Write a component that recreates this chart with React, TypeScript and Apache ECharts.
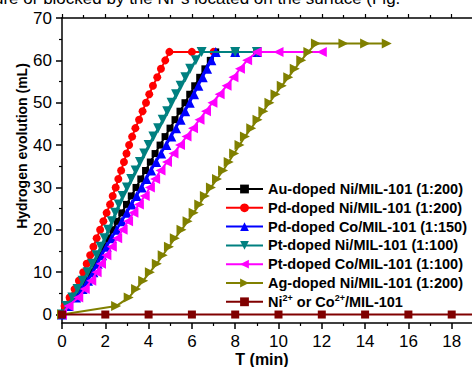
import React, { useEffect, useRef } from 'react';
import * as echarts from 'echarts';

const FONT = '"Liberation Sans", Arial, Helvetica, sans-serif';

const seriesNames = [
  'Au-doped Ni/MIL-101 (1:200)',
  'Pd-doped Ni/MIL-101 (1:200)',
  'Pd-doped Co/MIL-101 (1:150)',
  'Pt-doped Ni/MIL-101 (1:100)',
  'Pt-doped Co/MIL-101 (1:100)',
  'Ag-doped Ni/MIL-101 (1:200)',
  'Ni2+ or Co2+/MIL-101',
];
const seriesColors = ['#000000', '#ff0000', '#0000ff', '#008080', '#ff00ff', '#808000', '#800000'];

// volume readings (mL), every 2 mL
const vol62 = [0, 2, 4, 6, 8, 10, 12, 14, 16, 18, 20, 22, 24, 26, 28, 30, 32, 34, 36, 38, 40, 42, 44, 46, 48, 50, 52, 54, 56, 58, 60, 62];
const vol64 = [0, 2, 4, 6, 8, 10, 12, 14, 16, 18, 20, 22, 24, 26, 28, 30, 32, 34, 36, 38, 40, 42, 44, 46, 48, 50, 52, 54, 56, 58, 60, 62, 64];

// times (min) at which each volume was reached
const tAu = [0, 0.35, 0.62, 0.88, 1.12, 1.35, 1.55, 1.75, 1.95, 2.15, 2.35, 2.55, 2.76, 2.98, 3.2, 3.42, 3.64, 3.86, 4.08, 4.3, 4.53, 4.76, 4.99, 5.22, 5.45, 5.68, 5.9, 6.13, 6.36, 6.6, 6.85, 7.1];
const tPdNi = [0, 0.12, 0.35, 0.58, 0.78, 0.98, 1.14, 1.3, 1.45, 1.6, 1.76, 1.91, 2.06, 2.22, 2.34, 2.48, 2.6, 2.73, 2.86, 2.98, 3.1, 3.24, 3.39, 3.56, 3.72, 3.88, 4.03, 4.2, 4.4, 4.57, 4.77, 4.96];
const tPdCo = [0, 0.3, 0.65, 0.95, 1.2, 1.45, 1.65, 1.85, 2.06, 2.3, 2.53, 2.77, 3.0, 3.22, 3.45, 3.68, 3.9, 4.12, 4.35, 4.58, 4.82, 5.05, 5.27, 5.48, 5.69, 5.9, 6.1, 6.3, 6.5, 6.7, 6.9, 7.1];
const tPtNi = [0, 0.22, 0.48, 0.72, 0.95, 1.18, 1.4, 1.6, 1.78, 1.96, 2.13, 2.3, 2.46, 2.62, 2.8, 3.0, 3.2, 3.4, 3.6, 3.8, 4.0, 4.22, 4.44, 4.65, 4.86, 5.06, 5.27, 5.48, 5.7, 5.92, 6.18, 6.45];
const tPtCo = [0, 0.3, 0.75, 1.05, 1.35, 1.6, 1.8, 2.05, 2.3, 2.55, 2.8, 3.05, 3.3, 3.55, 3.82, 4.06, 4.3, 4.55, 4.85, 5.15, 5.45, 5.75, 6.05, 6.35, 6.65, 6.95, 7.28, 7.6, 7.92, 8.22, 8.55, 9.0];
const tAg = [0, 2.5, 3.08, 3.42, 3.75, 4.06, 4.38, 4.65, 4.94, 5.21, 5.52, 5.8, 6.08, 6.34, 6.6, 6.88, 7.16, 7.44, 7.7, 7.95, 8.2, 8.45, 8.74, 9.03, 9.3, 9.58, 9.86, 10.15, 10.45, 10.75, 11.05, 11.38, 11.73];

// plateau readings after completion
const platAu = [8, 9];
const platPdNi = [6, 7];
const platPdCo = [8, 9];
const platPtNi = [8, 9];
const platPtCo = [10, 12];
const platAg = [13, 14, 15];

// blank: Ni2+ / Co2+ only
const tBlank = [0, 2, 4, 6, 8, 10, 12, 14, 16, 18, 20];
const vBlank = [0, 0, 0, 0, 0, 0, 0, 0, 0, 0, 0];

const xTickLabels = [0, 2, 4, 6, 8, 10, 12, 14, 16, 18];
const yMajorTicks = [0, 10, 20, 30, 40, 50, 60, 70];
const yMinorTicks = [5, 15, 25, 35, 45, 55, 65];

function pairs(t: number[], v: number[], plat: number[], platV: number) {
  return t.map((x, i) => [x, v[i]]).concat(plat.map((x) => [x, platV]));
}

const seriesData = [
  pairs(tAu, vol62, platAu, 62),
  pairs(tPdNi, vol62, platPdNi, 62),
  pairs(tPdCo, vol62, platPdCo, 62),
  pairs(tPtNi, vol62, platPtNi, 62),
  pairs(tPtCo, vol62, platPtCo, 62),
  pairs(tAg, vol64, platAg, 64),
  tBlank.map((x, i) => [x, vBlank[i]]),
];
const symbols = ['rect', 'circle', 'triangle', 'triangle', 'triangle', 'triangle', 'rect'];
const symbolRotates = [0, 0, 0, 180, 90, -90, 0];
const symbolSizes = [7, 8, 10, 10, 10, 10, 8];

export default function App() {
  const ref = useRef<HTMLDivElement>(null);
  useEffect(() => {
    if (!ref.current) return;
    const chart = echarts.init(ref.current, undefined, { renderer: 'svg' });
    const axisLineStyle = { color: '#000', width: 1.5 };
    const option: any = {
      animation: false,
      backgroundColor: '#fff',
      grid: { left: 62, top: 18, width: 433, height: 305, containLabel: false, outerBoundsMode: 'none' },
      xAxis: [
        {
          type: 'value', position: 'bottom', min: 0, max: 20, interval: 2,
          axisLine: { show: true, onZero: false, lineStyle: axisLineStyle },
          axisTick: { show: true, inside: false, length: 6, lineStyle: axisLineStyle },
          minorTick: { show: true, splitNumber: 2, length: 3, lineStyle: { color: '#000', width: 1.2 } },
          axisLabel: { show: true, customValues: xTickLabels, fontSize: 17, color: '#000', fontFamily: FONT, margin: 10 },
          splitLine: { show: false },
        },
        {
          type: 'value', position: 'top', min: 0, max: 20, interval: 2,
          axisLine: { show: true, onZero: false, lineStyle: axisLineStyle },
          axisTick: { show: true, inside: false, length: 4, lineStyle: { color: '#000', width: 1.2 } },
          minorTick: { show: true, splitNumber: 2, length: 3, lineStyle: { color: '#000', width: 1.2 } },
          axisLabel: { show: false },
          splitLine: { show: false },
        },
      ],
      yAxis: [
        {
          type: 'value', position: 'left', min: -2, max: 70,
          axisLine: { show: true, onZero: false, lineStyle: axisLineStyle },
          axisTick: { show: true, inside: false, length: 6, customValues: yMajorTicks, lineStyle: axisLineStyle },
          axisLabel: { show: true, customValues: yMajorTicks, fontSize: 17, color: '#000', fontFamily: FONT, margin: 10 },
          splitLine: { show: false },
        },
        {
          type: 'value', position: 'left', min: -2, max: 70,
          axisLine: { show: false, onZero: false },
          axisTick: { show: true, inside: false, length: 3, customValues: yMinorTicks, lineStyle: { color: '#000', width: 1.2 } },
          axisLabel: { show: false },
          splitLine: { show: false },
        },
      ],
      legend: {
        orient: 'vertical', left: 220, top: 176,
        itemWidth: 37, itemHeight: 11, itemGap: 2.8,
        data: seriesNames,
        textStyle: { fontSize: 14.5, fontWeight: 'bold', color: '#000', fontFamily: FONT, lineHeight: 16,
          rich: {
            n: { fontSize: 14.5, fontWeight: 'bold', color: '#000', fontFamily: FONT, lineHeight: 16 },
            s: { fontSize: 9, fontWeight: 'bold', color: '#000', fontFamily: FONT, lineHeight: 9, verticalAlign: 'top' },
          },
        },
        formatter: (name: string) =>
          name === seriesNames[6] ? '{n|Ni}{s|2+}{n| or Co}{s|2+}{n|/MIL-101}' : name,
      },
      series: seriesNames.map((name, i) => ({
        name, type: 'line', xAxisIndex: 0, yAxisIndex: 0,
        data: seriesData[i],
        symbol: symbols[i], symbolSize: symbolSizes[i], symbolRotate: symbolRotates[i],
        showSymbol: true, showAllSymbol: true,
        lineStyle: { color: seriesColors[i], width: 2 },
        itemStyle: { color: seriesColors[i] },
        emphasis: { disabled: true },
        z: 2 + i,
      })),
      graphic: [
        {
          type: 'text', x: -6, y: 6.5,
          style: { text: 'ure or blocked by the NPs located on the surface (Fig.', font: `17px ${FONT}`, fill: '#000', textVerticalAlign: 'bottom' },
        },
        {
          type: 'text', x: 22, y: 146, rotation: Math.PI / 2,
          style: { text: 'Hydrogen evolution (mL)', font: `bold 14px ${FONT}`, fill: '#000', textAlign: 'center', textVerticalAlign: 'middle' },
        },
        {
          type: 'text', x: 262, y: 359,
          style: { text: 'T (min)', font: `bold 16px ${FONT}`, fill: '#000', textAlign: 'center', textVerticalAlign: 'middle' },
        },
      ],
    };
    chart.setOption(option);
    return () => chart.dispose();
  }, []);
  return (
    <div
      ref={ref}
      style={{ position: 'fixed', left: 0, top: 0, width: 472, height: 367, background: '#fff' }}
    />
  );
}
